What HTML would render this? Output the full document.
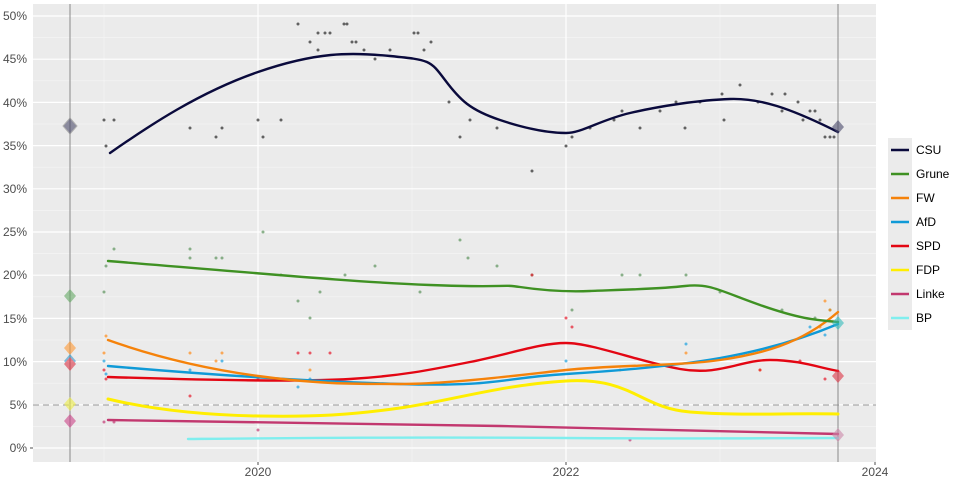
<!DOCTYPE html>
<html><head><meta charset="utf-8"><style>body{margin:0;background:#fff}svg{display:block;font-family:"Liberation Sans",sans-serif}</style></head><body>
<svg width="960" height="480" viewBox="0 0 960 480">
<rect x="33" y="4" width="843" height="458" fill="#ebebeb"/>
<g stroke="#f6f6f6" stroke-width="0.6">
<line x1="33" x2="876" y1="426.4" y2="426.4"/><line x1="33" x2="876" y1="383.2" y2="383.2"/><line x1="33" x2="876" y1="340" y2="340"/><line x1="33" x2="876" y1="296.8" y2="296.8"/><line x1="33" x2="876" y1="253.6" y2="253.6"/><line x1="33" x2="876" y1="210.4" y2="210.4"/><line x1="33" x2="876" y1="167.2" y2="167.2"/><line x1="33" x2="876" y1="124" y2="124"/><line x1="33" x2="876" y1="80.8" y2="80.8"/><line x1="33" x2="876" y1="37.6" y2="37.6"/>
<line x1="104" x2="104" y1="4" y2="462"/><line x1="412" x2="412" y1="4" y2="462"/><line x1="720" x2="720" y1="4" y2="462"/>
</g>
<g stroke="#fff" stroke-width="1.2">
<line x1="33" x2="876" y1="448" y2="448"/><line x1="33" x2="876" y1="404.8" y2="404.8"/><line x1="33" x2="876" y1="361.6" y2="361.6"/><line x1="33" x2="876" y1="318.4" y2="318.4"/><line x1="33" x2="876" y1="275.2" y2="275.2"/><line x1="33" x2="876" y1="232" y2="232"/><line x1="33" x2="876" y1="188.8" y2="188.8"/><line x1="33" x2="876" y1="145.6" y2="145.6"/><line x1="33" x2="876" y1="102.4" y2="102.4"/><line x1="33" x2="876" y1="59.2" y2="59.2"/><line x1="33" x2="876" y1="16" y2="16"/>
<line x1="258" x2="258" y1="4" y2="462"/><line x1="566" x2="566" y1="4" y2="462"/>
</g>
<line x1="33" x2="876" y1="405" y2="405" stroke="#999" stroke-dasharray="6,4" stroke-width="1"/>
<line x1="70" x2="70" y1="4" y2="462" stroke="#888" stroke-width="1"/>
<line x1="838" x2="838" y1="4" y2="462" stroke="#888" stroke-width="1"/>
<g fill="#333" opacity="0.75">
<circle cx="104" cy="120" r="1.5"/><circle cx="106" cy="146" r="1.5"/><circle cx="114" cy="120" r="1.5"/><circle cx="190" cy="128" r="1.5"/><circle cx="216" cy="137" r="1.5"/><circle cx="222" cy="128" r="1.5"/><circle cx="258" cy="120" r="1.5"/><circle cx="263" cy="137" r="1.5"/><circle cx="281" cy="120" r="1.5"/><circle cx="298" cy="24" r="1.5"/><circle cx="310" cy="42" r="1.5"/><circle cx="318" cy="33" r="1.5"/><circle cx="318" cy="50" r="1.5"/><circle cx="325" cy="33" r="1.5"/><circle cx="330" cy="33" r="1.5"/><circle cx="344" cy="24" r="1.5"/><circle cx="347" cy="24" r="1.5"/><circle cx="352" cy="42" r="1.5"/><circle cx="356" cy="42" r="1.5"/><circle cx="364" cy="50" r="1.5"/><circle cx="375" cy="59" r="1.5"/><circle cx="390" cy="50" r="1.5"/><circle cx="414" cy="33" r="1.5"/><circle cx="418" cy="33" r="1.5"/><circle cx="424" cy="50" r="1.5"/><circle cx="431" cy="42" r="1.5"/><circle cx="449" cy="102" r="1.5"/><circle cx="460" cy="137" r="1.5"/><circle cx="470" cy="120" r="1.5"/><circle cx="497" cy="128" r="1.5"/><circle cx="532" cy="171" r="1.5"/><circle cx="566" cy="146" r="1.5"/><circle cx="572" cy="137" r="1.5"/><circle cx="590" cy="128" r="1.5"/><circle cx="614" cy="120" r="1.5"/><circle cx="622" cy="111" r="1.5"/><circle cx="640" cy="128" r="1.5"/><circle cx="660" cy="111" r="1.5"/><circle cx="676" cy="102" r="1.5"/><circle cx="685" cy="128" r="1.5"/><circle cx="700" cy="102" r="1.5"/><circle cx="722" cy="94" r="1.5"/><circle cx="724" cy="120" r="1.5"/><circle cx="740" cy="85" r="1.5"/><circle cx="758" cy="102" r="1.5"/><circle cx="772" cy="94" r="1.5"/><circle cx="782" cy="111" r="1.5"/><circle cx="785" cy="94" r="1.5"/><circle cx="798" cy="102" r="1.5"/><circle cx="803" cy="120" r="1.5"/><circle cx="810" cy="111" r="1.5"/><circle cx="815" cy="111" r="1.5"/><circle cx="825" cy="137" r="1.5"/><circle cx="830" cy="137" r="1.5"/><circle cx="834" cy="137" r="1.5"/><circle cx="820" cy="120" r="1.5"/>
</g>
<g fill="#669966" opacity="0.75">
<circle cx="104" cy="292" r="1.5"/><circle cx="106" cy="266" r="1.5"/><circle cx="114" cy="249" r="1.5"/><circle cx="190" cy="249" r="1.5"/><circle cx="190" cy="258" r="1.5"/><circle cx="216" cy="258" r="1.5"/><circle cx="222" cy="258" r="1.5"/><circle cx="263" cy="232" r="1.5"/><circle cx="281" cy="275" r="1.5"/><circle cx="298" cy="301" r="1.5"/><circle cx="310" cy="318" r="1.5"/><circle cx="320" cy="292" r="1.5"/><circle cx="345" cy="275" r="1.5"/><circle cx="375" cy="266" r="1.5"/><circle cx="420" cy="292" r="1.5"/><circle cx="460" cy="240" r="1.5"/><circle cx="468" cy="258" r="1.5"/><circle cx="497" cy="266" r="1.5"/><circle cx="532" cy="275" r="1.5"/><circle cx="572" cy="310" r="1.5"/><circle cx="622" cy="275" r="1.5"/><circle cx="640" cy="275" r="1.5"/><circle cx="686" cy="275" r="1.5"/><circle cx="720" cy="292" r="1.5"/><circle cx="782" cy="310" r="1.5"/><circle cx="815" cy="318" r="1.5"/><circle cx="830" cy="310" r="1.5"/>
</g>
<g fill="#ff8c1a" opacity="0.7"><circle cx="104" cy="353" r="1.5"/><circle cx="106" cy="336" r="1.5"/><circle cx="190" cy="353" r="1.5"/><circle cx="216" cy="361" r="1.5"/><circle cx="222" cy="353" r="1.5"/><circle cx="310" cy="370" r="1.5"/><circle cx="620" cy="370" r="1.5"/><circle cx="686" cy="353" r="1.5"/><circle cx="760" cy="370" r="1.5"/><circle cx="825" cy="301" r="1.5"/><circle cx="830" cy="310" r="1.5"/><circle cx="820" cy="327" r="1.5"/></g>
<g fill="#1aa1e0" opacity="0.7"><circle cx="104" cy="361" r="1.5"/><circle cx="106" cy="374" r="1.5"/><circle cx="190" cy="370" r="1.5"/><circle cx="222" cy="361" r="1.5"/><circle cx="298" cy="387" r="1.5"/><circle cx="310" cy="379" r="1.5"/><circle cx="566" cy="361" r="1.5"/><circle cx="686" cy="344" r="1.5"/><circle cx="810" cy="327" r="1.5"/><circle cx="825" cy="335" r="1.5"/></g>
<g fill="#e6192b" opacity="0.7"><circle cx="104" cy="370" r="1.5"/><circle cx="106" cy="379" r="1.5"/><circle cx="190" cy="396" r="1.5"/><circle cx="258" cy="379" r="1.5"/><circle cx="298" cy="353" r="1.5"/><circle cx="310" cy="353" r="1.5"/><circle cx="330" cy="353" r="1.5"/><circle cx="532" cy="275" r="1.5"/><circle cx="566" cy="318" r="1.5"/><circle cx="572" cy="327" r="1.5"/><circle cx="760" cy="370" r="1.5"/><circle cx="800" cy="361" r="1.5"/><circle cx="825" cy="379" r="1.5"/></g>
<g fill="#c23a74" opacity="0.7"><circle cx="104" cy="422" r="1.5"/><circle cx="114" cy="422" r="1.5"/><circle cx="258" cy="430" r="1.5"/><circle cx="630" cy="440" r="1.5"/></g>
<g fill="none" stroke-width="2.4" stroke-linejoin="round" stroke-linecap="round">
<path stroke="#80eeee" d="M188,439 C300,438 400,437 566,438 S760,438 838,438"/>
<path stroke="#c2386f" d="M108,420 C258,422 400,424 500,426 S700,431 838,434"/>
<path stroke="#ffee00" stroke-width="3" d="M108,399 C150,409 200,415 258,416 S350,415 400,408 S500,385 566,381 S640,408 690,412 S780,413 838,414"/>
<path stroke="#e30613" d="M108,377 C200,380 300,382 350,379 S430,370 470,362 S540,343 566,343 S640,362 680,369 S740,360 770,360 S820,368 838,371"/>
<path stroke="#0f9ad7" d="M108,366 C200,374 300,381 400,384 S500,378 566,374 S680,365 720,358 S800,340 838,324"/>
<path stroke="#f5820a" d="M108,340 C150,355 200,368 258,376 S350,384 400,384 S520,375 566,370 S680,366 720,360 S800,345 838,312"/>
<path stroke="#3f9123" d="M108,261 C258,273 350,282 430,285 S500,284 520,287 S566,292 590,291 S660,289 685,286 S720,291 760,305 S815,320 838,322"/>
<path stroke="#0a0a3c" d="M110,153 C150,125 200,92 258,72 S350,52 390,56 S430,60 445,80 S470,110 500,120 S550,133 566,133 S600,120 630,113 S700,100 730,99 S790,108 838,132"/>
</g>
<g opacity="0.6">
<path d="M70,118 l7,8 -7,8 -7,-8z" fill="#4a4a6a" stroke="#888"/>
<path d="M70,289 l6,7 -6,7 -6,-7z" fill="#66aa66"/>
<path d="M70,341 l6,7 -6,7 -6,-7z" fill="#ff9933"/>
<path d="M70,354 l6,7 -6,7 -6,-7z" fill="#3399cc"/>
<path d="M70,357 l6,7 -6,7 -6,-7z" fill="#dd3344"/>
<path d="M70,397 l6,7 -6,7 -6,-7z" fill="#eeee44"/>
<path d="M70,414 l6,7 -6,7 -6,-7z" fill="#cc4488"/>
<path d="M838,120 l6,7 -6,7 -6,-7z" fill="#4a4a6a"/>
<path d="M838,316 l6,7 -6,7 -6,-7z" fill="#33bbbb"/>
<path d="M838,369 l6,7 -6,7 -6,-7z" fill="#dd3344"/>
<path d="M838,428 l6,7 -6,7 -6,-7z" fill="#cc88aa"/>
</g>
<g font-size="12" fill="#4d4d4d" text-anchor="end">
<text x="27" y="452">0%</text><text x="27" y="409">5%</text><text x="27" y="366">10%</text><text x="27" y="323">15%</text><text x="27" y="279">20%</text><text x="27" y="236">25%</text><text x="27" y="193">30%</text><text x="27" y="150">35%</text><text x="27" y="107">40%</text><text x="27" y="63">45%</text><text x="27" y="20">50%</text>
</g>
<g stroke="#4d4d4d"><line x1="30" x2="33" y1="448" y2="448"/><line x1="258" x2="258" y1="462" y2="465"/><line x1="566" x2="566" y1="462" y2="465"/><line x1="875" x2="875" y1="462" y2="465"/></g>
<g font-size="12" fill="#4d4d4d" text-anchor="middle"><text x="258" y="476">2020</text><text x="566" y="476">2022</text><text x="875" y="476">2024</text></g>
<rect x="888" y="138" width="24" height="192" fill="#ebebeb"/>
<g stroke-width="2.5">
<line x1="891" x2="909" y1="150" y2="150" stroke="#0a0a3c"/><line x1="891" x2="909" y1="174" y2="174" stroke="#3f9123"/><line x1="891" x2="909" y1="198" y2="198" stroke="#f5820a"/><line x1="891" x2="909" y1="222" y2="222" stroke="#0f9ad7"/><line x1="891" x2="909" y1="246" y2="246" stroke="#e30613"/><line x1="891" x2="909" y1="270" y2="270" stroke="#ffee00"/><line x1="891" x2="909" y1="294" y2="294" stroke="#c2386f"/><line x1="891" x2="909" y1="318" y2="318" stroke="#80eeee"/>
</g>
<g font-size="12" fill="#000"><text x="916" y="154">CSU</text><text x="916" y="178">Grune</text><text x="916" y="202">FW</text><text x="916" y="226">AfD</text><text x="916" y="250">SPD</text><text x="916" y="274">FDP</text><text x="916" y="298">Linke</text><text x="916" y="322">BP</text></g>
</svg>
</body></html>
